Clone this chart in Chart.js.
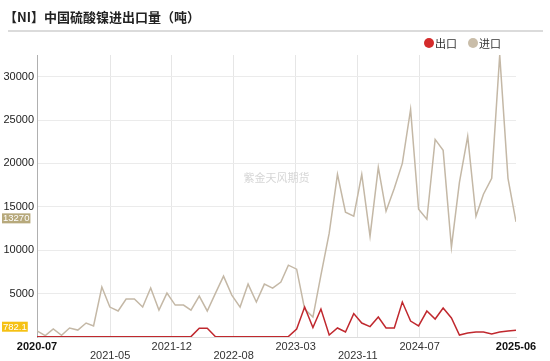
<!DOCTYPE html>
<html>
<head>
<meta charset="utf-8">
<script src="https://cdn.jsdelivr.net/npm/chart.js@4.4.1/dist/chart.umd.min.js"></script>
<style>
  html, body { margin: 0; padding: 0; background: #fff; }
  #wrap { width: 550px; height: 361px; position: relative; }
</style>
</head>
<body>
<div id="wrap"><canvas id="niChart"></canvas></div>
<script>
// months of the series, 2020-07 .. 2025-06
const months = [
  "2020-07", "2020-08", "2020-09", "2020-10", "2020-11", "2020-12",
  "2021-01", "2021-02", "2021-03", "2021-04", "2021-05", "2021-06",
  "2021-07", "2021-08", "2021-09", "2021-10", "2021-11", "2021-12",
  "2022-01", "2022-02", "2022-03", "2022-04", "2022-05", "2022-06",
  "2022-07", "2022-08", "2022-09", "2022-10", "2022-11", "2022-12",
  "2023-01", "2023-02", "2023-03", "2023-04", "2023-05", "2023-06",
  "2023-07", "2023-08", "2023-09", "2023-10", "2023-11", "2023-12",
  "2024-01", "2024-02", "2024-03", "2024-04", "2024-05", "2024-06",
  "2024-07", "2024-08", "2024-09", "2024-10", "2024-11", "2024-12",
  "2025-01", "2025-02", "2025-03", "2025-04", "2025-05", "2025-06",
];

// 出口 (export), tonnes
const exportValues = [
  40, 30, 20, 30, 40, 30, 20, 30, 40, 30, 20, 30,
  30, 20, 30, 40, 30, 20, 30, 40, 1000, 1000, 30, 20,
  30, 20, 30, 40, 30, 20, 30, 50, 920, 3450, 1100, 3220,
  230, 1040, 575, 2700, 1610, 1200, 2300, 1040, 1040, 4030, 1840, 1270,
  2990, 2070, 3340, 2190, 230, 460, 575, 575, 350, 575, 690, 782.1,
];

// 进口 (import), tonnes
const importValues = [
  700, 150, 920, 200, 1040, 800, 1610, 1270, 5760, 3450, 3000, 4370,
  4370, 3450, 5640, 3100, 5060, 3680, 3680, 3100, 4720, 3000, 5060, 7020,
  4830, 3450, 6100, 4030, 6100, 5640, 6330, 8280, 7820, 3220, 2300, 7130,
  11960, 18750, 14380, 13920, 18750, 11620, 19550, 14500, 17140, 20010, 26220, 14720,
  13570, 22770, 21510, 10350, 17830, 23120, 13920, 16450, 18290, 32500, 18290, 13270,
];

// the dates where the time axis puts its labelled ticks
const tickDates = ["2021-05-01", "2021-12-18", "2022-08-07", "2023-03-27", "2023-11-15", "2024-07-04"];
const yStep = 5000;

const seriesNames = ["出口", "进口"];
const seriesColors = ["#c0282e", "#c4b8a6"];
const lastBoxColors = ["#f5c114", "#b7a97c"];

// each point sits at the end of its month
const monthEnd = (m) => {
  const [y, mo] = m.split("-").map(Number);
  return Date.UTC(y, mo, 0);
};
const toMonth = (ms) => {
  const d = new Date(ms);
  return d.getUTCFullYear() + "-" + String(d.getUTCMonth() + 1).padStart(2, "0");
};
const xMin = monthEnd(months[0]);
const xMax = monthEnd(months[months.length - 1]);
const lastTick = tickDates.length + 1;

const toPoints = (vals) => vals.map((v, i) => ({ x: monthEnd(months[i]), y: v }));

const FONT = "'Liberation Sans', Arial, sans-serif";
const CJK = "'Noto Sans CJK SC', sans-serif";

const decorPlugin = {
  id: "decor",
  beforeDatasetsDraw(chart) {
    const { ctx, chartArea } = chart;
    ctx.save();
    ctx.fillStyle = "#d6d6d6";
    ctx.font = "11px " + CJK;
    ctx.textAlign = "center";
    ctx.textBaseline = "middle";
    ctx.fillText("紫金天风期货", (chartArea.left + chartArea.right) / 2, 178);
    ctx.restore();
  },
  afterDraw(chart) {
    const { ctx } = chart;
    ctx.save();
    // title
    ctx.fillStyle = "#222";
    ctx.font = "bold 13px " + CJK;
    ctx.textBaseline = "middle";
    ctx.textAlign = "left";
    ctx.fillText("【NI】中国硫酸镍进出口量（吨）", 4, 17);
    ctx.strokeStyle = "#cfcfcf";
    ctx.lineWidth = 1.5;
    ctx.beginPath();
    ctx.moveTo(8, 31);
    ctx.lineTo(543, 31);
    ctx.stroke();

    // legend
    const legendX = [429, 473];
    ctx.font = "11px " + CJK;
    seriesNames.forEach((name, i) => {
      ctx.fillStyle = i === 0 ? "#d42b2b" : "#c9bda9";
      ctx.beginPath();
      ctx.arc(legendX[i], 43, 5, 0, Math.PI * 2);
      ctx.fill();
      ctx.fillStyle = "#333";
      ctx.fillText(name, legendX[i] + 6, 43.5);
    });

    // last value boxes on the y axis
    const yScale = chart.scales.y;
    ctx.font = "9.5px " + FONT;
    [exportValues, importValues].forEach((vals, i) => {
      const v = vals[vals.length - 1];
      const text = String(v);
      const w = ctx.measureText(text).width + 2;
      const py = yScale.getPixelForValue(v) - 3.5;
      ctx.fillStyle = lastBoxColors[i];
      ctx.fillRect(2, py - 5, w, 10);
      ctx.fillStyle = "#fff";
      ctx.textAlign = "left";
      ctx.fillText(text, 3, py + 0.5);
    });
    ctx.restore();
  },
};

new Chart(document.getElementById("niChart"), {
  type: "line",
  data: {
    datasets: [
      {
        label: seriesNames[0],
        data: toPoints(exportValues),
        borderColor: seriesColors[0],
        borderWidth: 1.5,
        pointRadius: 0,
        tension: 0,
      },
      {
        label: seriesNames[1],
        data: toPoints(importValues),
        borderColor: seriesColors[1],
        borderWidth: 1.5,
        pointRadius: 0,
        tension: 0,
      },
    ],
  },
  options: {
    responsive: true,
    maintainAspectRatio: false,
    animation: false,
    layout: { padding: { top: 55, right: 34, bottom: 0, left: 0 } },
    plugins: {
      legend: { display: false },
      tooltip: { enabled: false },
    },
    scales: {
      x: {
        type: "linear",
        min: xMin,
        max: xMax,
        afterBuildTicks(scale) {
          scale.ticks = [xMin, ...tickDates.map((d) => Date.parse(d)), xMax].map((v) => ({ value: v }));
        },
        afterFit(scale) {
          scale.height = 24;
        },
        grid: {
          color: (c) => (c.index === 0 || c.index === lastTick ? "rgba(0,0,0,0)" : "#e6e6e6"),
          drawTicks: false,
          tickLength: 0,
        },
        border: { color: "#dddddd" },
        ticks: {
          padding: 5,
          maxRotation: 0,
          autoSkip: false,
          color: (c) => (c.index === 0 || c.index === lastTick ? "#111" : "#333"),
          font: (c) => ({
            family: FONT,
            size: 11,
            lineHeight: "9.5px",
            weight: c.index === 0 || c.index === lastTick ? "bold" : "normal",
          }),
          callback(value, index) {
            const label = toMonth(value);
            return index % 2 === 1 && index < 6 ? ["", label] : label;
          },
        },
      },
      y: {
        type: "linear",
        min: 0,
        max: Math.max(...importValues),
        afterBuildTicks(scale) {
          const ticks = [];
          for (let v = 0; v <= scale.max; v += yStep) ticks.push({ value: v });
          scale.ticks = ticks;
        },
        afterFit(scale) {
          scale.width = 37;
        },
        grid: { color: "#ebebeb", drawTicks: false, tickLength: 0 },
        border: { color: "#b0b0b0" },
        ticks: {
          padding: 3,
          autoSkip: false,
          color: "#222",
          font: { family: FONT, size: 11 },
          callback: (v) => (v === 0 ? "" : String(v)),
        },
      },
    },
  },
  plugins: [decorPlugin],
});
</script>
</body>
</html>
